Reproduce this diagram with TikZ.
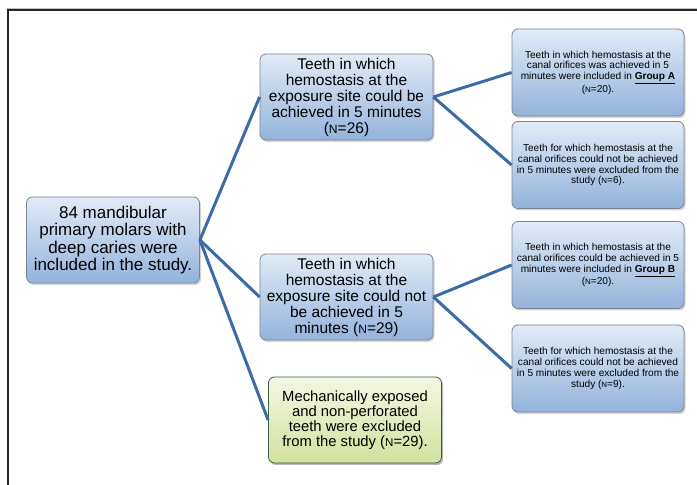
\documentclass[tikz,border=0pt]{standalone}
\usepackage{fontspec}
\setmainfont{Liberation Sans}
\usetikzlibrary{positioning, shadows}
\definecolor{linkblue}{HTML}{3D6BA6}
\definecolor{boxtop}{HTML}{E2EBF6}
\definecolor{boxbot}{HTML}{93B3DC}
\definecolor{greentop}{HTML}{F3F8E2}
\definecolor{greenbot}{HTML}{D2E19F}
\definecolor{boxline}{HTML}{7A8593}
\newcommand{\nsc}{\scalebox{0.78}{N}}
\newcommand{\roottxt}{\fontsize{17}{17.5}\selectfont}
\newcommand{\bigtxt}{\fontsize{15.5}{16}\selectfont}
\newcommand{\greentxt}{\fontsize{14.8}{15}\selectfont}
\newcommand{\smalltxt}{\fontsize{10.1}{10.8}\selectfont}

\begin{document}
\begin{tikzpicture}[x=1pt, y=1pt,
		stepbox/.style={rectangle, rounded corners=6pt, draw=boxline, line width=0.8pt,
			top color=boxtop, bottom color=boxbot, align=center, inner sep=2pt,
			minimum width=173pt, minimum height=86pt,
			drop shadow={shadow xshift=1.5pt, shadow yshift=-2pt, opacity=0.35}},
		outbox/.style={stepbox, top color=greentop, bottom color=greenbot, draw=boxline!80!green!60!black},
		bigbox/.style={stepbox, font=\bigtxt},
		smallbox/.style={stepbox, font=\smalltxt, minimum width=172pt, minimum height=87pt},
		link/.style={draw=linkblue, line width=3pt}
		]
		
		\useasboundingbox (0,0) rectangle (697,485);
		% frame
		\draw[gray!50, line width=1pt] (7,0) -- (7,476) -- (697,476);
		\draw[black!85, line width=1.2pt] (8,0) -- (8,475) -- (697,475);
		
		\node[bigbox, font=\roottxt] (root) at (113, 245) {84 mandibular\\primary molars with\\deep caries were\\included in the study.};
		
		\node[bigbox] (yes) at (346.5, 388) {Teeth in which\\hemostasis at the\\exposure site could be\\achieved in 5 minutes\\(\nsc{}=26)};
		\node[bigbox] (no) at (346.5, 188) {Teeth in which\\hemostasis at the\\exposure site could not\\be achieved in 5\\minutes (\nsc{}=29)};
		\node[bigbox, outbox, font=\greentxt] (mech) at (355, 65) {Mechanically exposed\\and non-perforated\\teeth were excluded\\from the study (\nsc{}=29).};
		
		\node[smallbox] (ga) at (598, 412.5) {Teeth in which hemostasis at the\\canal orifices was achieved in 5\\minutes were included in \underline{\textbf{Group A}}\\(\nsc{}=20).};
		\node[smallbox] (exa) at (598, 320) {Teeth for which hemostasis at the\\canal orifices could not be achieved\\in 5 minutes were excluded from the\\study (\nsc{}=6).};
		\node[smallbox] (gb) at (598, 220) {Teeth in which hemostasis at the\\canal orifices could be achieved in 5\\minutes were included in \underline{\textbf{Group B}}\\(\nsc{}=20).};
		\node[smallbox] (exb) at (598, 116.5) {Teeth for which hemostasis at the\\canal orifices could not be achieved\\in 5 minutes were excluded from the\\study (\nsc{}=9).};
		
		\draw[link] (root.east) to (yes.west);
		\draw[link] (root.east) to (no.west);
		\draw[link] (root.east) to (mech.west);
		\draw[link] (yes.east) to (ga.west);
		\draw[link] (yes.east) to (exa.west);
		\draw[link] (no.east) to (gb.west);
		\draw[link] (no.east) to (exb.west);
		\end{tikzpicture}
\end{document}
